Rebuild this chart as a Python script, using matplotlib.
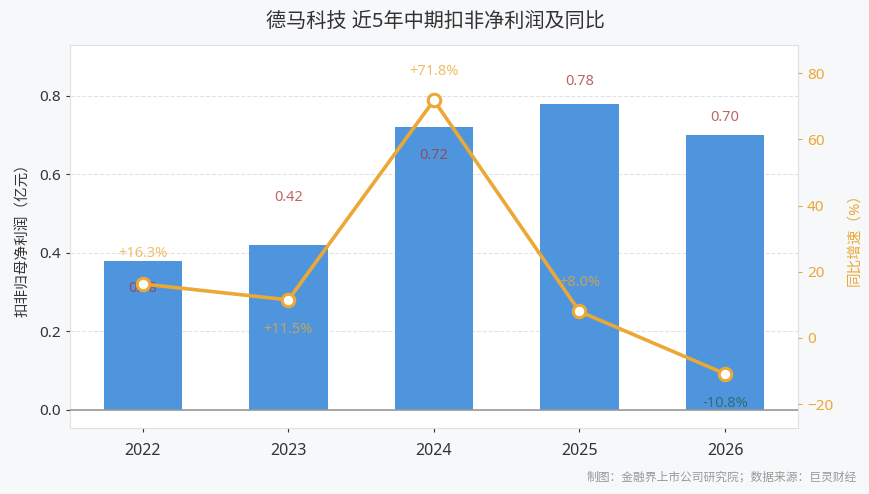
import matplotlib.pyplot as plt
import numpy as np

plt.rcParams['font.family'] = ['Noto Sans', 'Noto Sans CJK SC', 'DejaVu Sans']

# 数据
years = ['2022', '2023', '2024', '2025', '2026']
profit = [0.38, 0.42, 0.72, 0.78, 0.70]          # 亿元
growth = [16.3, 11.5, 71.8, 8.0, -10.8]           # %
title = '德马科技 近5年中期扣非净利润及同比'
footer = '制图：金融界上市公司研究院；数据来源：巨灵财经'

# 标签偏移（像素）
bar_off = [-28, 48, -28, 22, 18]
pct_off = [30, -30, 29, 29, -30]

BAR = '#4f95de'
LINE = '#eba835'
DPI = 100

fig = plt.figure(figsize=(8.7, 4.94), dpi=DPI, facecolor='#f7f8fa')
ax = fig.add_axes([0.0805, 0.1336, 0.8365, 0.7754])
ax.set_facecolor('white')
x = np.arange(len(years))

ax.bar(x, profit, width=0.54, color=BAR, zorder=2)
ax.set_xlim(-0.5, 4.5)
ax.set_ylim(-0.046, 0.93)
ax.set_yticks([0.0, 0.2, 0.4, 0.6, 0.8])
ax.set_yticklabels([f'{v:.1f}' for v in [0.0, 0.2, 0.4, 0.6, 0.8]])
ax.set_xticks(x)
ax.set_xticklabels(years)
ax.tick_params(axis='both', labelsize=11, colors='#333333', length=3)
ax.tick_params(axis='x', pad=8, labelsize=11.5)
ax.grid(axis='y', linestyle='--', color='#e3e3e3', linewidth=0.8, zorder=0)
ax.axhline(0, color='#999999', linewidth=1.2, zorder=3)
for s in ax.spines.values():
    s.set_color('#e0e0e0')
ax.set_ylabel('扣非归母净利润（亿元）', fontsize=10.5, color='#333333',
              labelpad=6)

pt = 72.0 / DPI
for i, v in enumerate(profit):
    ax.annotate(f'{v:.2f}', (x[i], v), xytext=(0, bar_off[i] * pt),
                textcoords='offset points', ha='center', va='center',
                fontsize=10.5, color='#a83232', alpha=0.75, zorder=4)

ax2 = ax.twinx()
ax2.set_ylim(-27.2, 88.5)
ax2.set_yticks([-20, 0, 20, 40, 60, 80])
ax2.plot(x, growth, color=LINE, linewidth=2.6, marker='o', markersize=9,
         markerfacecolor='white', markeredgecolor=LINE, markeredgewidth=2.2,
         zorder=5)
ax2.tick_params(axis='y', labelsize=11, colors=LINE, length=3)
for s in ax2.spines.values():
    s.set_visible(False)
ax2.set_ylabel('同比增速（%）', fontsize=10.5, color=LINE, rotation=90,
               labelpad=10)

for i, g in enumerate(growth):
    txt = f'{g:+.1f}%'
    col = LINE if g >= 0 else '#1f6450'
    ax2.annotate(txt, (x[i], g), xytext=(0, pct_off[i] * pt),
                 textcoords='offset points', ha='center', va='center',
                 fontsize=10.5, color=col, alpha=0.75, zorder=6)

fig.text(0.5, 0.955, title, ha='center', va='center', fontsize=14.5,
         color='#333333')
fig.text(0.985, 0.035, footer, ha='right', va='center', fontsize=8.5,
         color='#999999')

fig.savefig('out.png', dpi=DPI, facecolor=fig.get_facecolor())
